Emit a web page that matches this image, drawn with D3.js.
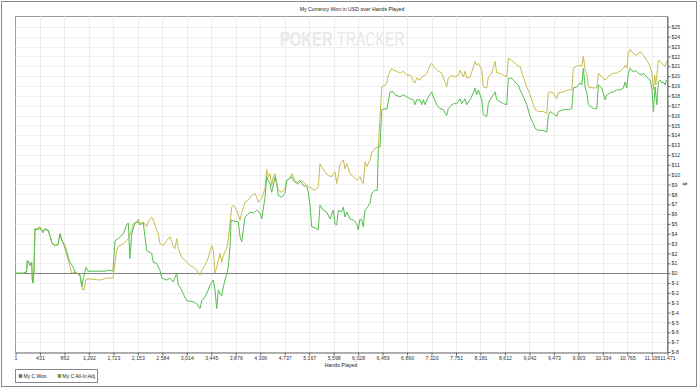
<!DOCTYPE html>
<html>
<head>
<meta charset="utf-8">
<script src="https://cdn.jsdelivr.net/npm/d3@7/dist/d3.min.js"></script>
<style>
  html, body { margin: 0; padding: 0; background: #fff; }
  svg { display: block; font-family: "Liberation Sans", Arial, sans-serif; }
</style>
</head>
<body>
<svg id="chart" width="700" height="390"></svg>
<script>
// ---------- data ----------
const chartTitle = "My Currency Won in USD over Hands Played";
const xAxisTitle = "Hands Played";
const yAxisTitle = "$";
const watermarkParts = ["POKER", "TRACKER"];
const seriesNames = ["My C Won", "My C All-In Adj"];
const seriesColors = ["#55be4f", "#c6bd4e"];
const legendColors = ["#2e9e2a", "#a39f1c"];

const xTickValues = [1,431,862,1292,1723,2153,2584,3014,3445,3876,4306,4737,5167,5598,6028,6459,6890,7320,7751,8181,8612,9042,9473,9903,10334,10765,11195,11471];
const yTickValues = [-8,-7,-6,-5,-4,-3,-2,-1,0,1,2,3,4,5,6,7,8,9,10,11,12,13,14,15,16,17,18,19,20,21,22,23,24,25];

const wonHands = [
  1,150,168,195,209,238,256,286,297,309,
  326,344,379,432,485,520,573,608,643,696,
  749,784,814,872,930,960,1018,1048,1136,1166,
  1188,1241,1276,1400,1487,1575,1663,1716,1751,1809,
  1897,1957,1985,2015,2045,2103,2161,2191,2249,2279,
  2309,2397,2425,2485,2543,2573,2661,2719,2777,2837,
  2865,2895,2953,3013,3129,3189,3247,3277,3335,3393,
  3423,3481,3511,3541,3569,3599,3629,3657,3687,3717,
  3745,3775,3793,3833,3921,3951,3981,4009,4039,4127,
  4185,4245,4303,4333,4391,4420,4448,4478,4508,4536,
  4566,4596,4624,4684,4742,4772,4860,4888,4948,5006,
  5064,5124,5152,5182,5212,5270,5328,5358,5416,5476,
  5534,5592,5622,5652,5680,5740,5768,5798,5828,5886,
  5944,6004,6032,6062,6092,6120,6150,6180,6238,6268,
  6326,6366,6384,6414,6444,6502,6532,6590,6648,6678,
  6766,6824,6884,6942,7000,7029,7059,7117,7147,7175,
  7205,7263,7323,7351,7411,7469,7527,7587,7615,7645,
  7703,7763,7821,7851,7909,7939,7997,8055,8085,8115,
  8143,8203,8231,8291,8319,8349,8407,8437,8467,8525,
  8583,8643,8671,8731,8789,8847,8877,8935,8995,9053,
  9083,9111,9141,9199,9287,9347,9375,9405,9463,9523,
  9551,9639,9727,9787,9815,9875,9933,9963,9991,10021,
  10051,10079,10167,10227,10255,10315,10373,10403,10461,10519,
  10579,10637,10695,10725,10755,10783,10813,10871,10901,10959,
  11019,11047,11107,11165,11195,11223,11253,11283,11311,11341,
  11371,11399,11429,11453
];
const wonValues = [
  0,0,0.1,0.1,1.3,1.1,0.8,1.1,-0.7,-1.0,
  0.3,4.5,4.4,4.6,4.1,4.5,4.4,3.8,3.1,2.8,
  2.9,4.0,3.3,2.8,1.6,1.1,0.6,0.1,-0.2,-1.4,
  -0.7,0.6,0.2,0.2,0.2,0.2,0.3,0.2,3.3,3.5,
  4.0,4.9,5.1,1.5,4.0,5.1,5.2,4.9,5.1,3.7,
  2.3,2.0,1.1,1.0,0.3,-0.5,-0.7,-0.5,-0.9,0.0,
  -1.2,-1.4,-2.1,-2.8,-2.9,-3.1,-3.6,-2.8,-2.4,-1.7,
  -1.2,-0.7,-1.7,-3.6,-1.7,-2.1,-2.3,-1.4,-0.7,-0.1,
  0.6,2.7,5.4,5.3,5.2,3.7,3.2,4.4,5.7,6.2,
  6.1,6.4,6.1,5.5,7.7,9.8,9.4,9.1,8.2,8.9,
  9.8,9.1,7.9,7.7,8.1,9.4,9.8,9.4,9.1,9.4,
  8.9,8.8,8.2,6.9,4.7,4.6,4.4,6.9,6.4,6.2,
  5.5,6.4,5.0,4.9,6.4,6.2,6.7,5.7,6.2,5.5,
  5.4,5.0,4.4,5.5,5.4,4.7,6.4,6.6,7.1,8.1,
  8.4,8.4,12.8,12.8,16.6,16.7,16.6,18.4,18.4,18.1,
  17.9,18.1,17.9,17.7,17.6,17.1,17.6,17.6,17.1,17.6,
  17.1,17.9,18.4,17.9,17.1,16.7,16.6,16.0,16.7,16.9,
  17.2,17.2,17.7,17.2,17.7,17.1,17.6,18.3,18.8,18.1,
  18.6,17.6,16.1,15.9,17.2,17.6,18.1,18.4,17.6,17.4,
  17.2,17.1,19.8,19.8,19.4,19.1,18.6,17.9,17.1,15.9,
  15.5,15.2,14.7,14.5,14.5,14.3,16.0,16.4,16.2,15.9,
  16.4,16.6,16.6,16.7,18.8,18.9,19.3,19.1,20.8,18.9,
  18.3,17.1,16.7,16.7,19.1,18.8,17.6,18.1,18.3,18.4,
  18.6,18.6,18.8,19.4,18.8,20.3,20.8,20.4,20.6,20.3,
  20.1,20.3,19.9,19.6,18.8,16.4,18.9,17.1,19.4,19.6,
  19.3,19.4,19.1,19.6
];

const adjHands = [
  1,150,168,195,209,238,256,286,297,309,
  326,344,379,432,485,520,573,608,643,696,
  749,784,872,930,990,1048,1136,1183,1206,1241,
  1347,1487,1605,1716,1781,1810,1897,1985,2045,2073,
  2133,2161,2191,2249,2309,2337,2397,2425,2485,2513,
  2543,2601,2661,2719,2749,2777,2807,2837,2865,2925,
  2983,3071,3129,3189,3247,3277,3335,3393,3453,3481,
  3511,3541,3599,3629,3657,3717,3745,3805,3833,3893,
  3951,3981,4039,4097,4157,4215,4245,4273,4333,4361,
  4391,4420,4448,4478,4508,4536,4566,4596,4624,4684,
  4742,4772,4830,4860,4918,4976,5036,5094,5152,5212,
  5270,5328,5358,5388,5446,5504,5564,5622,5652,5680,
  5710,5768,5798,5828,5886,5944,6004,6062,6092,6120,
  6150,6180,6238,6268,6326,6384,6414,6444,6502,6532,
  6560,6620,6648,6708,6766,6824,6884,6942,6972,7000,
  7029,7059,7117,7147,7205,7235,7293,7323,7351,7411,
  7499,7557,7587,7615,7675,7733,7791,7821,7879,7909,
  7939,7997,8055,8085,8115,8143,8203,8231,8291,8319,
  8379,8437,8467,8525,8583,8643,8671,8731,8789,8847,
  8877,8935,8995,9053,9111,9141,9199,9287,9347,9375,
  9405,9463,9523,9551,9639,9727,9787,9815,9875,9933,
  9963,9991,10021,10051,10079,10167,10227,10255,10315,10373,
  10403,10461,10519,10579,10637,10695,10725,10755,10783,10813,
  10871,10931,10989,11047,11107,11165,11195,11223,11244,11265,
  11311,11341,11399,11429,11453
];
const adjValues = [
  0,0,0.1,0.1,1.3,1.1,0.8,1.1,-0.7,-1.0,
  0.3,4.5,4.5,4.7,4.2,4.5,4.3,3.8,3.0,2.8,
  2.9,4.0,2.5,1.3,0.0,0.1,-0.2,-1.7,-1.7,-0.6,
  -0.6,-0.7,-0.5,-0.5,2.3,2.7,3.0,3.5,4.4,5.0,
  5.2,5.5,5.0,5.2,4.7,5.2,5.7,5.4,4.4,4.0,
  3.0,2.8,3.3,3.7,3.2,2.7,2.5,3.5,2.5,1.6,
  1.3,0.8,0.6,0.3,-0.2,0.3,0.8,1.6,2.8,2.3,
  0.0,0.6,2.0,1.1,1.8,2.5,3.5,6.7,6.9,6.4,
  5.4,6.1,7.2,7.4,7.9,8.1,7.7,7.2,7.6,8.1,
  8.6,10.5,9.8,10.1,8.9,9.8,10.1,9.1,8.4,8.2,
  8.6,9.4,9.6,10.1,9.4,9.1,9.4,9.1,8.8,8.6,
  8.4,8.8,11.1,10.8,10.3,9.9,9.8,10.3,9.1,9.9,
  11.1,11.5,10.6,11.1,10.1,9.8,9.4,9.8,9.3,9.1,
  11.3,10.8,11.5,12.2,12.7,12.8,15.9,18.9,19.1,19.3,
  20.1,20.8,20.6,20.5,20.3,20.5,20.1,20.1,19.9,19.4,
  19.3,19.8,19.6,19.9,20.1,20.3,21.1,21.3,21.0,20.6,
  20.3,19.4,18.9,19.8,20.1,19.9,20.1,20.6,19.9,20.5,
  19.8,19.9,20.9,21.5,21.1,21.3,20.6,18.9,18.8,19.9,
  20.3,21.5,20.3,20.3,20.1,19.9,21.8,21.6,21.3,21.0,
  21.0,19.9,18.9,18.1,17.1,16.6,16.4,16.4,16.2,18.3,
  18.4,18.3,17.7,18.3,18.4,18.6,18.6,20.8,21.0,21.1,
  21.0,22.0,20.6,20.3,18.9,18.8,18.8,20.3,19.9,19.6,
  19.8,20.1,20.3,20.3,20.5,20.8,21.1,20.8,22.3,22.7,
  22.3,22.1,22.5,22.1,21.6,21.0,20.3,18.6,20.1,19.1,
  21.6,21.5,21.1,21.0,21.5
];

// ---------- layout ----------
const svg = d3.select("#chart");
const plot = { left: 15.5, right: 667.5, top: 16.5, bottom: 352.5 };

const x = d3.scaleLinear().domain([1, 11471]).range([plot.left, plot.right]);
const y = d3.scaleLinear().domain([-8, 26.1]).range([plot.bottom - 0.5, plot.top - 0.5]);

// outer frame
svg.append("rect").attr("x", 1.5).attr("y", 1.5).attr("width", 695).attr("height", 385)
  .attr("fill", "#fff").attr("stroke", "#8a8a8a").attr("stroke-width", 1);

// title
svg.append("text").attr("x", 352).attr("y", 11).attr("text-anchor", "middle")
  .attr("font-size", 5.2).attr("fill", "#222").text(chartTitle);

// plot background + frame
svg.append("rect").attr("x", plot.left).attr("y", plot.top)
  .attr("width", plot.right - plot.left).attr("height", plot.bottom - plot.top)
  .attr("fill", "#fff").attr("stroke", "#9a9a9a").attr("stroke-width", 1);

// grid
const grid = svg.append("g");
grid.selectAll("line.h").data(yTickValues).join("line")
  .attr("x1", plot.left).attr("x2", plot.right)
  .attr("y1", d => Math.round(y(d)) + 0.5).attr("y2", d => Math.round(y(d)) + 0.5)
  .attr("stroke", "#f0f0f0");
grid.selectAll("line.v").data(xTickValues.slice(1, -1)).join("line")
  .attr("y1", plot.top).attr("y2", plot.bottom)
  .attr("x1", d => Math.round(x(d)) + 0.5).attr("x2", d => Math.round(x(d)) + 0.5)
  .attr("stroke", "#ececec");

// watermark: two condensed texts placed side by side (scaled horizontally)
svg.append("text").attr("transform", "translate(280,46) scale(0.74,1)")
  .attr("font-size", 20).attr("font-weight", "bold").attr("fill", "#e8e8e8")
  .text(watermarkParts[0]);
svg.append("text").attr("transform", "translate(337,46) scale(0.71,1)")
  .attr("font-size", 20).attr("fill", "#e8e8e8")
  .text(watermarkParts[1]);

// zero line
svg.append("line").attr("x1", plot.left).attr("x2", plot.right)
  .attr("y1", Math.round(y(0)) + 0.5).attr("y2", Math.round(y(0)) + 0.5)
  .attr("stroke", "#808080");

// series
const series = [
  { name: seriesNames[1], hands: adjHands, values: adjValues, color: seriesColors[1] },
  { name: seriesNames[0], hands: wonHands, values: wonValues, color: seriesColors[0] }
];
const line = d3.line().x(d => x(d[0])).y(d => y(d[1]));
series.forEach(s => {
  const n = Math.min(s.hands.length, s.values.length);
  const pts = d3.range(n).map(i => [s.hands[i], s.values[i]]);
  svg.append("path").datum(pts).attr("d", line)
    .attr("fill", "none").attr("stroke", s.color).attr("stroke-width", 1)
    .attr("stroke-linejoin", "round");
});

// axes
const xAxis = d3.axisBottom(x).tickValues(xTickValues).tickSize(3).tickSizeOuter(0)
  .tickFormat(d3.format(","));
const gx = svg.append("g").attr("transform", `translate(0,${plot.bottom})`).call(xAxis);
const yAxis = d3.axisRight(y).tickValues(yTickValues).tickSize(3).tickSizeOuter(0)
  .tickFormat(d => "$" + d);
const gy = svg.append("g").attr("transform", `translate(${plot.right},0)`).call(yAxis);
[gx, gy].forEach(g => {
  g.select(".domain").attr("stroke", "#666");
  g.selectAll(".tick line").attr("stroke", "#666");
  g.selectAll(".tick text").attr("font-size", 5.2).attr("fill", "#333")
    .attr("font-family", "'Liberation Sans', Arial, sans-serif");
});
gx.selectAll(".tick text").attr("dy", "0.9em").attr("y", 3);
gy.selectAll(".tick text").attr("x", 4);

// axis titles
svg.append("text").attr("x", 341).attr("y", 367).attr("text-anchor", "middle")
  .attr("font-size", 5.2).attr("fill", "#222").text(xAxisTitle);
svg.append("text").attr("transform", `translate(683,184) rotate(90)`)
  .attr("text-anchor", "middle").attr("font-size", 5.2).attr("fill", "#333").text(yAxisTitle);

// legend
const lg = svg.append("g");
lg.append("rect").attr("x", 15.5).attr("y", 369.5).attr("width", 82).attr("height", 13)
  .attr("fill", "#fff").attr("stroke", "#888");
const legendX = [19, 58];
seriesNames.forEach((name, i) => {
  lg.append("rect").attr("x", legendX[i]).attr("y", 374.5).attr("width", 3).attr("height", 3)
    .attr("fill", legendColors[i]).attr("stroke", "#555").attr("stroke-width", 0.4);
  lg.append("text").attr("x", legendX[i] + 4.5).attr("y", 378).attr("font-size", 5)
    .attr("fill", "#222").text(name);
});
</script>
</body>
</html>
